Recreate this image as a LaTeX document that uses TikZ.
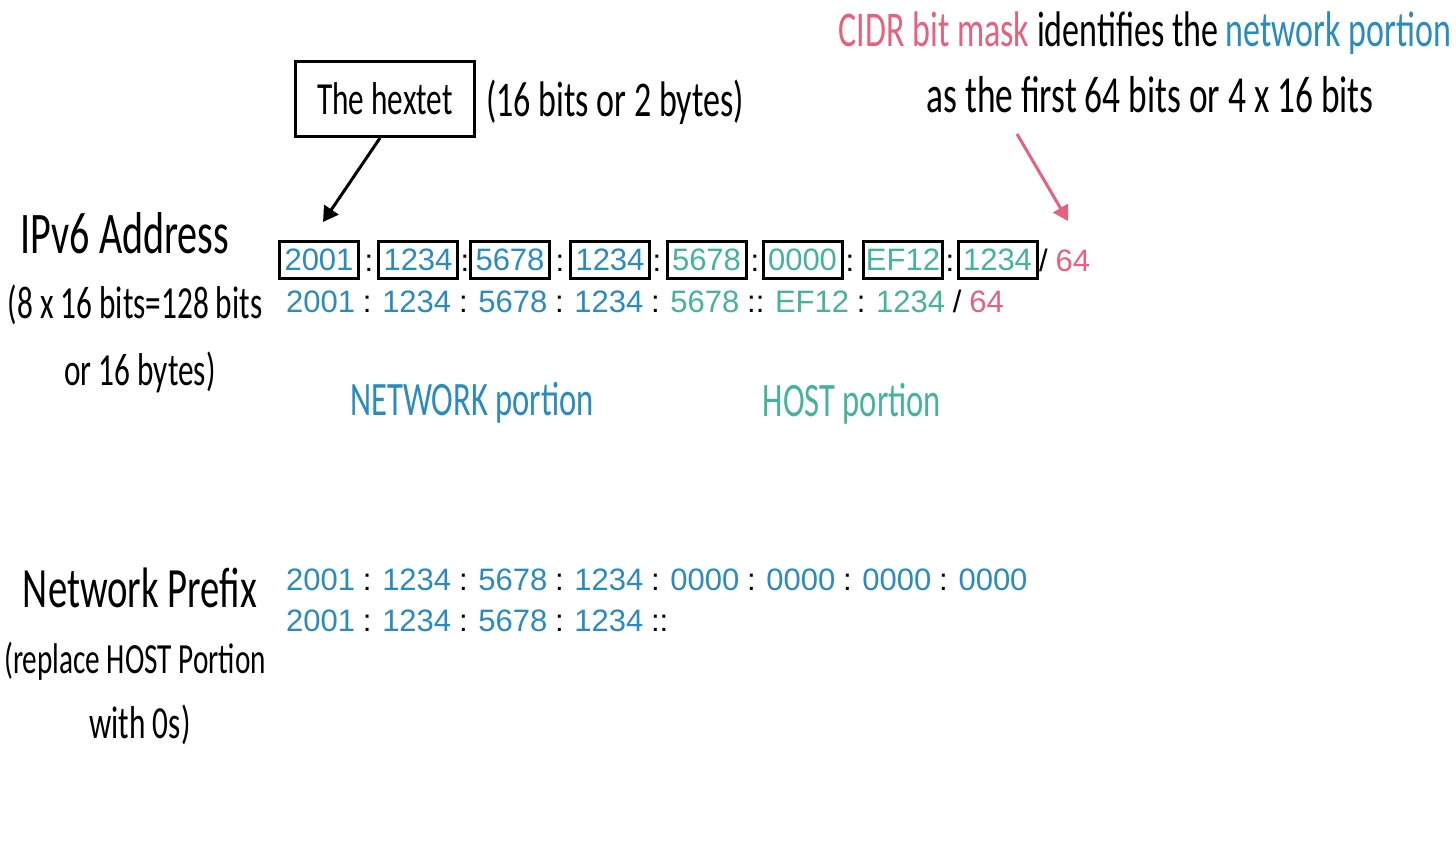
\documentclass[tikz,border=0pt]{standalone}
\usepackage{fontspec}
\setmainfont{Liberation Sans}
\newfontfamily\hand[FakeStretch=0.68]{Carlito}
\usetikzlibrary{arrows.meta}
\definecolor{nblue}{HTML}{2A8BBE}
\definecolor{hgreen}{HTML}{45B39B}
\definecolor{cpink}{HTML}{E8617C}
\newcommand\addrfont{\fontsize{31}{36}\selectfont\spaceskip=7.8pt\relax}
\newcommand\hw[1]{\hand\fontsize{#1}{#1}\selectfont}
\begin{document}
\begin{tikzpicture}[x=1pt,y=-1pt,
  hexbox/.style={draw, line width=3pt, minimum width=79pt, minimum height=37pt, inner sep=0pt, font=\addrfont},
  netbox/.style={hexbox, text=nblue},
  hostbox/.style={hexbox, text=hgreen},
  sep/.style={font=\addrfont, anchor=base, inner sep=0pt},
  addr/.style={font=\addrfont, anchor=base west, inner sep=0pt},
  hwtext/.style={anchor=base, inner sep=0pt},
  blackarrow/.style={line width=3pt, -{Triangle[length=15pt,width=17pt]}},
  pinkarrow/.style={line width=3pt, draw=cpink, -{Triangle[length=15pt,width=17pt]}, color=cpink}
]
\useasboundingbox (0,0) rectangle (1456,848);

% left labels
\node[hwtext, font=\hw{59}] (ipv6) at (125,253) {IPv6 Address};
\node[hwtext, font=\hw{46}] (ipv6a) at (135,318) {(8 x 16 bits=128 bits};
\node[hwtext, font=\hw{46}] (ipv6b) at (140,385) {or 16 bytes)};

\node[hwtext, font=\hw{57}] (np) at (140,607) {Network Prefix};
\node[hwtext, font=\hw{43}] (npa) at (135,673) {(replace HOST Portion};
\node[hwtext, font=\hw{46}] (npb) at (140,738) {with 0s)};

% hextet callout
\node[draw, line width=3pt, minimum width=179pt, minimum height=75pt, inner sep=0pt, font=\hw{46}] (hextet) at (385,99) {The hextet};
\node[hwtext, font=\hw{50}, anchor=base west] (hexnote) at (486,117) {(16 bits or 2 bytes)};

% CIDR note
\node[hwtext, font=\hw{50}] (cidr) at (1145,47) {{\color{cpink}CIDR bit mask} identifies the {\color{nblue}network portion}};
\node[hwtext, font=\hw{52}] (cidrb) at (1150,113) {as the first 64 bits or 4 x 16 bits};

% boxed address
\node[netbox] (h1) at (319,259.5) {2001};
\node[netbox] (h2) at (418,259.5) {1234};
\node[netbox] (h3) at (510,259.5) {5678};
\node[netbox] (h4) at (610,259.5) {1234};
\node[hostbox] (h5) at (706.5,259.5) {5678};
\node[hostbox] (h6) at (802.5,259.5) {0000};
\node[hostbox] (h7) at (903,259.5) {EF12};
\node[hostbox] (h8) at (997.5,259.5) {1234};
\node[sep] (c1) at (369,271) {:};
\node[sep] (c2) at (465,271) {:};
\node[sep] (c3) at (560,271) {:};
\node[sep] (c4) at (657,271) {:};
\node[sep] (c5) at (755,271) {:};
\node[sep] (c6) at (850,271) {:};
\node[sep] (c7) at (950,271) {:};
\node[addr] (mask) at (1039,271) {/ {\color{cpink}64}};

% compressed address
\node[addr] (short) at (286,312) {{\color{nblue}2001} : {\color{nblue}1234} : {\color{nblue}5678} : {\color{nblue}1234} : {\color{hgreen}5678} :: {\color{hgreen}EF12} : {\color{hgreen}1234} / {\color{cpink}64}};

% portion labels
\node[hwtext, font=\hw{48}, text=nblue] (netp) at (472,415) {NETWORK portion};
\node[hwtext, font=\hw{48}, text=hgreen] (hostp) at (852,416) {HOST portion};

% network prefix
\node[addr] (pre1) at (286,590) {{\color{nblue}2001} : {\color{nblue}1234} : {\color{nblue}5678} : {\color{nblue}1234} : {\color{nblue}0000} : {\color{nblue}0000} : {\color{nblue}0000} : {\color{nblue}0000}};
\node[addr] (pre2) at (286,631) {{\color{nblue}2001} : {\color{nblue}1234} : {\color{nblue}5678} : {\color{nblue}1234} ::};

% arrows
\coordinate (hexend) at (323,222);
\draw[blackarrow] ([xshift=-5pt]hextet.south) -- (hexend);
\coordinate (pinkstart) at (1017,134);
\coordinate (pinkend) at (1068,221);
\draw[pinkarrow] (pinkstart) -- (pinkend);
\end{tikzpicture}
\end{document}
